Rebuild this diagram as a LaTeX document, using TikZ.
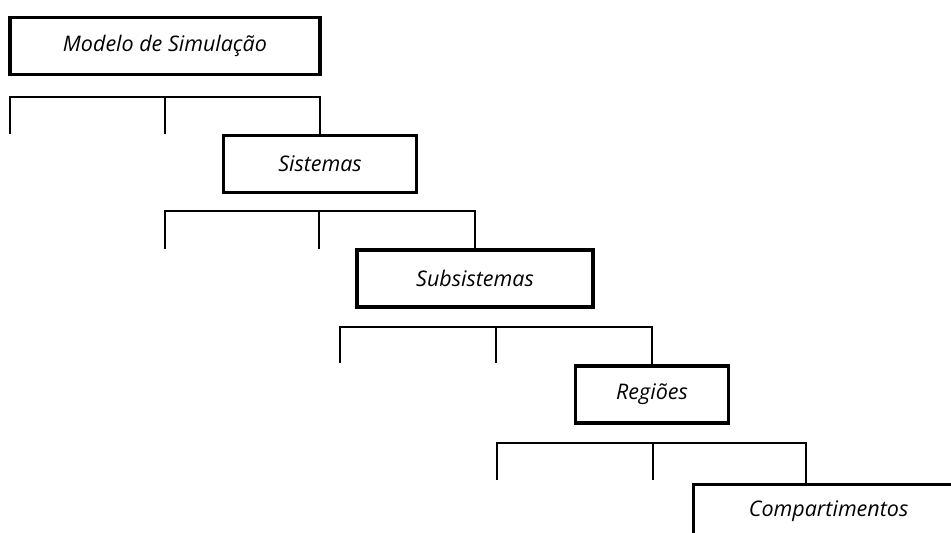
\documentclass[tikz,border=0pt]{standalone}
\usepackage{fontspec}
\setmainfont{Open Sans}

\begin{document}
\begin{tikzpicture}[
  x=1pt,y=-1pt,
  box/.style={draw,line width=3.2pt,minimum height=57pt,inner sep=0pt,font=\fontsize{21.5}{25}\selectfont\itshape},
  link/.style={draw,line width=1.8pt}
]
\useasboundingbox (0,0) rectangle (951,533);

% levels of the model
\node[box,minimum width=310pt] (modelo) at (165,46) {Modelo de Simula\c{c}\~ao};
\node[box,minimum width=193pt] (sis) at (320,164) {Sistemas};
\node[box,minimum width=236pt] (sub) at (475,278.5) {Subsistemas};
\node[box,minimum width=153pt] (reg) at (652,394.5) {Regi\~oes};
\node[box,minimum width=270pt,anchor=north west,text height=32pt,text depth=40pt] (comp) at (692,483) {Compartimentos};

% bracket ends
\coordinate (t1) at (10,97);  \coordinate (l1) at (10,134);  \coordinate (m1) at (165,134);
\coordinate (t2) at (165,211); \coordinate (l2) at (165,249); \coordinate (m2) at (319,249);
\coordinate (t3) at (340,327); \coordinate (l3) at (340,363); \coordinate (m3) at (496,363);
\coordinate (t4) at (497,443); \coordinate (l4) at (497,480); \coordinate (m4) at (653,480);
\coordinate (r4) at (806,483);

\draw[link] (l1) -- (t1) -| (sis.north);
\draw[link] (m1) -- (m1 |- t1);
\draw[link] (l2) -- (t2) -| (sub.north);
\draw[link] (m2) -- (m2 |- t2);
\draw[link] (l3) -- (t3) -| (reg.north);
\draw[link] (m3) -- (m3 |- t3);
\draw[link] (l4) -- (t4) -| (r4);
\draw[link] (m4) -- (m4 |- t4);
\end{tikzpicture}
\end{document}
